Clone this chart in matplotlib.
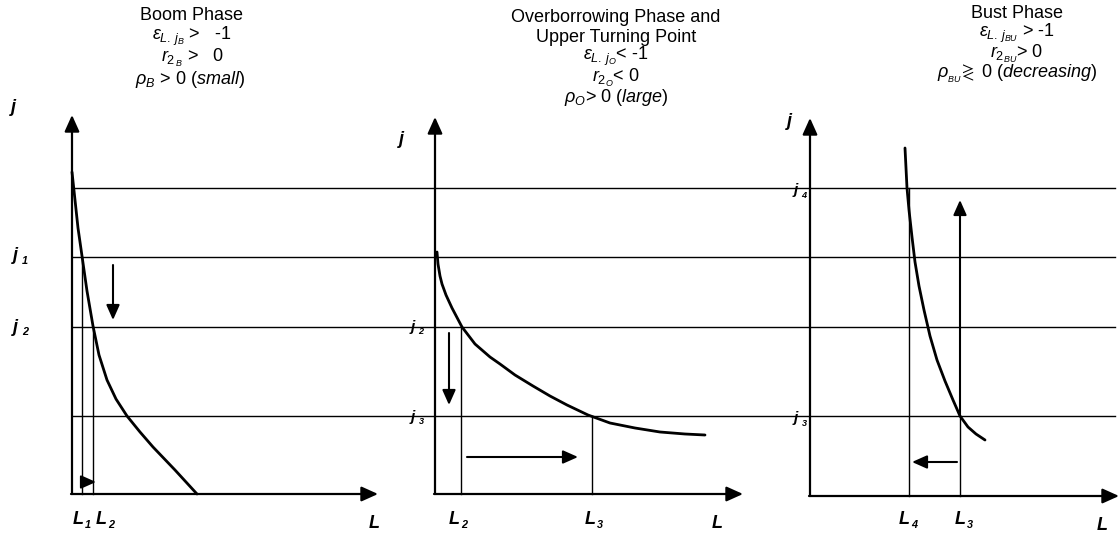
import matplotlib.pyplot as plt

plt.rcParams['font.family'] = ['Liberation Sans', 'DejaVu Sans']
plt.rcParams['mathtext.fontset'] = 'custom'
plt.rcParams['mathtext.rm'] = 'Liberation Sans'
plt.rcParams['mathtext.it'] = 'Liberation Sans:italic'
plt.rcParams['mathtext.bf'] = 'Liberation Sans:bold'

# figure is drawn in pixel units (y grows downwards)
W, H = 1120, 541

# horizontal j levels: j4 / j1 / j2 / j3
level_names = ['j4', 'j1', 'j2', 'j3']
level_y = [188, 257, 327, 416]
level_x0, level_x1 = 72, 1115

# the three panels: y axis x, x axis y, arrow tips
axis_x = [72, 435, 810]
axis_y = [494, 494, 496]
axis_top = [115, 117, 118]
axis_right = [378, 743, 1119]

# demand curves
boom_L = [72, 75, 78, 82, 87, 93, 99, 107, 116, 127, 140, 153, 175, 197]
boom_j = [172, 200, 228, 256, 291, 326, 355, 380, 399, 416, 432, 447, 470, 494]

over_L = [437, 438, 440, 442, 446, 452, 462, 475, 490, 500, 515, 533, 550, 567, 588, 610, 635, 660, 685, 705]
over_j = [252, 264, 276, 284, 295, 308, 327, 344, 357, 364, 375, 386, 396, 405, 415, 423, 428, 432, 434, 435]

bust_L = [905, 906, 907, 909, 912, 915, 919, 924, 930, 937, 945, 953, 960, 968, 976, 985]
bust_j = [148, 168, 188, 210, 237, 262, 286, 310, 336, 360, 381, 400, 416, 427, 434, 440]

# vertical drop lines (x, from y, to y)
drop_x = [82, 93, 461, 592, 909, 960]
drop_top = [257, 327, 327, 416, 188, 416]
drop_bottom = [494, 494, 494, 494, 496, 496]

# movement arrows (start -> end)
move_from = [(113, 265), (82, 482), (449, 333), (467, 457), (960, 416), (957, 462)]
move_to = [(113, 320), (96, 482), (449, 405), (578, 457), (960, 200), (912, 462)]

fig = plt.figure(figsize=(W / 100, H / 100), dpi=100)
ax = fig.add_axes([0, 0, 1, 1])
ax.set_xlim(0, W)
ax.set_ylim(H, 0)
ax.axis('off')

for y in level_y:
    ax.plot([level_x0, level_x1], [y, y], color='k', lw=1.0)

for x, y0, y1 in zip(drop_x, drop_top, drop_bottom):
    ax.plot([x, x], [y0, y1], color='k', lw=1.0)

axis_style = dict(arrowstyle='-|>,head_length=1.0,head_width=0.45', color='k', lw=1.6,
                  shrinkA=0, shrinkB=0)
for x, y, top, right in zip(axis_x, axis_y, axis_top, axis_right):
    ax.annotate('', xy=(x, top), xytext=(x, y), arrowprops=axis_style)
    ax.annotate('', xy=(right, y), xytext=(x - 1, y), arrowprops=axis_style)

for xs, ys in [(boom_L, boom_j), (over_L, over_j), (bust_L, bust_j)]:
    ax.plot(xs, ys, color='k', lw=2.0, solid_capstyle='round', solid_joinstyle='round')

move_style = dict(arrowstyle='-|>,head_length=0.9,head_width=0.4', color='k', lw=1.5,
                  shrinkA=0, shrinkB=0)
for a, b in zip(move_from, move_to):
    ax.annotate('', xy=b, xytext=a, arrowprops=move_style)


def label(x, y, main, sub=None, size=13):
    ax.text(x, y, main, fontsize=size, fontstyle='italic', fontweight='bold',
            ha='left', va='center')
    if sub:
        off = (9 if main == 'j' else 12) * size / 13
        ax.text(x + off, y + 5, sub, fontsize=size * 0.6, fontstyle='italic',
                fontweight='bold', ha='left', va='center')


# axis names
label(11, 108, 'j')
label(399, 140, 'j')
label(787, 122, 'j')
label(369, 524, 'L')
label(712, 524, 'L')
label(1097, 526, 'L')

# level names
label(13, 256, 'j', '1')
label(13, 327, 'j', '2')
label(411, 327, 'j', '2', 11)
label(411, 417, 'j', '3', 11)
label(794, 190, 'j', '4', 11)
label(794, 418, 'j', '3', 11)

# L marks
label(73, 520, 'L', '1')
label(96, 520, 'L', '2')
label(449, 520, 'L', '2')
label(585, 520, 'L', '3')
label(899, 520, 'L', '4')
label(955, 520, 'L', '3')

fs = 13
title_kw = dict(fontsize=fs, ha='center', va='center')

ax.text(192, 15, 'Boom Phase', **title_kw)
ax.text(192, 36, r'$\epsilon_{L.\,j_B}$ >   -1', **title_kw)
ax.text(192, 58, r'$r_{2_{\,B}}$ >   0', **title_kw)
ax.text(190, 80, r'$\rho_B$ > 0 ($\mathit{small}$)', **title_kw)

ax.text(616, 17, 'Overborrowing Phase and', **title_kw)
ax.text(616, 37, 'Upper Turning Point', **title_kw)
ax.text(616, 56, r'$\epsilon_{L.\,j_O}$< -1', **title_kw)
ax.text(616, 78, r'$r_{2_O}$< 0', **title_kw)
ax.text(616, 98, r'$\rho_O$> 0 $\mathit{(large)}$', **title_kw)

ax.text(1017, 14, 'Bust Phase', **title_kw)
ax.text(1017, 33, r'$\epsilon_{L.\,j_{BU}}$ > -1', **title_kw)
ax.text(1017, 54, r'$r_{2_{BU}}$> 0', **title_kw)
ax.text(1017, 74, r'$\rho_{_{BU}}\!\gtrless$ 0 $\mathit{(decreasing)}$', **title_kw)

fig.savefig('out.png', dpi=100)
